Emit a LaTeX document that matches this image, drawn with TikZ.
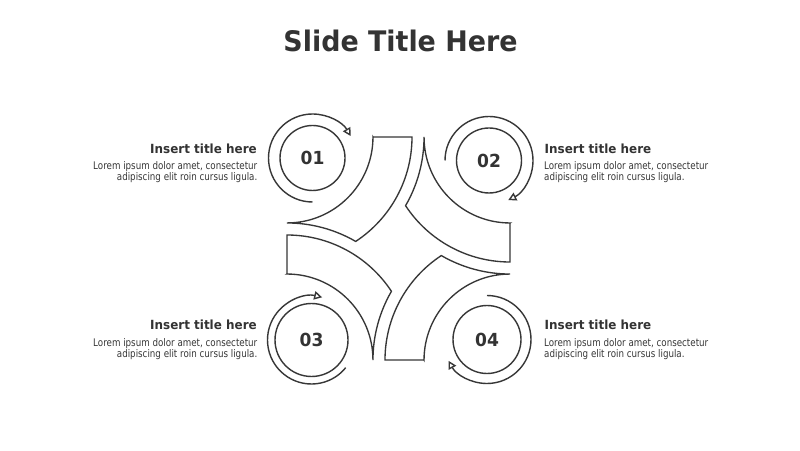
\documentclass[tikz,border=0pt]{standalone}
\usepackage{fontspec}
\usetikzlibrary{arrows.meta,calc}
\newfontfamily\headfont[FakeStretch=0.95]{DejaVu Sans}
\newfontfamily\bodyfont[FakeStretch=0.83]{DejaVu Sans}
\definecolor{ink}{RGB}{55,55,55}
\definecolor{txt}{RGB}{51,51,51}
\definecolor{bodytxt}{RGB}{55,55,55}
\tikzset{
  blade/.style={draw=ink, line width=1.35pt, line join=miter},
  numring/.style={circle, draw=ink, line width=1.4pt, inner sep=0pt, text=txt,
     font=\headfont\bfseries\fontsize{18}{18}\selectfont},
  turn/.style={draw=ink, line width=1.4pt, -{Triangle[open, length=8pt, width=8.5pt]}},
  head/.style={inner sep=0pt, text=txt, font=\headfont\bfseries\fontsize{12.6}{13}\selectfont},
  bodyline/.style={inner sep=0pt, text=bodytxt, font=\bodyfont\fontsize{10.5}{11}\selectfont},
}
\begin{document}
\begin{tikzpicture}[x=1pt,y=1pt]
\useasboundingbox[fill=white] (0,0) rectangle (800,450);

% title
\node[inner sep=0pt, text=txt, anchor=base, font=\headfont\bfseries\fontsize{28.3}{30}\selectfont] (title) at (400.5,398.7) {Slide Title Here};

% four blades
\begin{scope}[shift={(398.5,201.5)}]
\foreach \r in {0,90,180,270}{
  \draw[blade, rotate=\r] (-25.5,111.5) -- (13.5,111.5)
     arc[start angle=0, end angle=-56.67, radius=125]
     arc[start angle=59.9, end angle=90, radius=137]
     arc[start angle=-90, end angle=0, radius=86] -- cycle;
}
\end{scope}

% numbered circles
\node[numring, minimum size=65pt] (c1) at (312.5,292) {01};
\node[numring, minimum size=65pt] (c2) at (489,289.5) {02};
\node[numring, minimum size=73pt] (c3) at (311.5,110) {03};
\node[numring, minimum size=68pt] (c4) at (487,110.5) {04};

% circular arrows
\draw[turn] ([shift={(270:44)}]c1.center) arc[start angle=270, end angle=30, radius=44];
\draw[turn] ([shift={(180:44)}]c2.center) arc[start angle=180, end angle=-64, radius=44];
\draw[turn] ([shift={(-39:44)}]c3.center) arc[start angle=-39, end angle=-284, radius=44];
\draw[turn] ([shift={(90:44)}]c4.center) arc[start angle=90, end angle=-151, radius=44];

% text blocks
\node[head, anchor=base east] (h1) at (257,296.5) {Insert title here};
\node[bodyline, anchor=base east] (b1a) at (257.5,280) {Lorem ipsum dolor amet, consectetur};
\node[bodyline, anchor=base east] (b1b) at (257.5,269) {adipiscing elit roin cursus ligula.};

\node[head, anchor=base west] (h2) at (544.5,296.5) {Insert title here};
\node[bodyline, anchor=base west] (b2a) at (544,280) {Lorem ipsum dolor amet, consectetur};
\node[bodyline, anchor=base west] (b2b) at (544,269) {adipiscing elit roin cursus ligula.};

\node[head, anchor=base east] (h3) at (257,120.5) {Insert title here};
\node[bodyline, anchor=base east] (b3a) at (257.5,104) {Lorem ipsum dolor amet, consectetur};
\node[bodyline, anchor=base east] (b3b) at (257.5,93) {adipiscing elit roin cursus ligula.};

\node[head, anchor=base west] (h4) at (544.5,120.5) {Insert title here};
\node[bodyline, anchor=base west] (b4a) at (544,104) {Lorem ipsum dolor amet, consectetur};
\node[bodyline, anchor=base west] (b4b) at (544,93) {adipiscing elit roin cursus ligula.};
\end{tikzpicture}
\end{document}
